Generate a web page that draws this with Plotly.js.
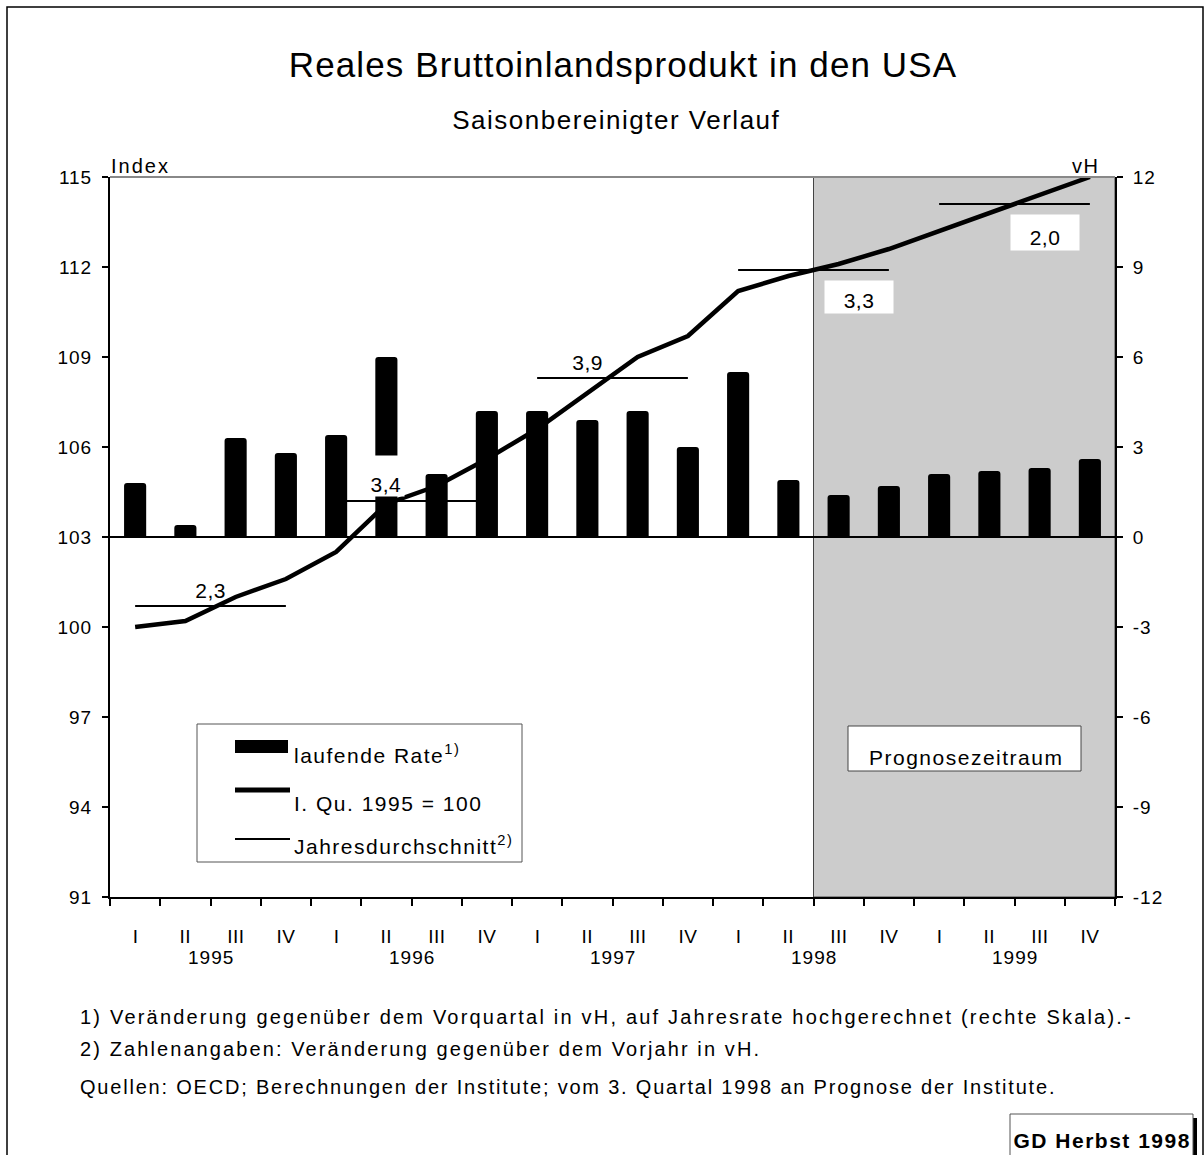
<!DOCTYPE html>
<html>
<head>
<meta charset="utf-8">
<script src="https://cdn.plot.ly/plotly-3.0.1.min.js"></script>
<style>html,body{margin:0;padding:0;background:#fff;}#chart{width:1204px;height:1155px;}</style>
</head>
<body>
<div id="chart"></div>
<script>
// ---- data ----
const quarterNames = ['I', 'II', 'III', 'IV'];
const years = ['1995', '1996', '1997', '1998', '1999'];
// laufende Rate (vH, right scale)
const rate = [1.8, 0.4, 3.3, 2.8, 3.4, 6.0, 2.1, 4.2, 4.2, 3.9, 4.2, 3.0, 5.5, 1.9, 1.4, 1.7, 2.1, 2.2, 2.3, 2.6];
// Index I. Qu. 1995 = 100 (left scale)
const indexLevel = [100.0, 100.2, 101.0, 101.6, 102.5, 104.1, 104.7, 105.6, 106.6, 107.8, 109.0, 109.7, 111.2, 111.7, 112.1, 112.6, 113.2, 113.8, 114.4, 115.0];
// Jahresdurchschnitt (index level) and growth vs. previous year
const annualAvg = [100.7, 104.2, 108.3, 111.9, 114.1];
const annualGrowth = ['2,3', '3,4', '3,9', '3,3', '2,0'];
// axis ticks
const leftTicks = [91, 94, 97, 100, 103, 106, 109, 112, 115];
const rightTicks = [-12, -9, -6, -3, 0, 3, 6, 9, 12];
const rightTickText = ['-12', '-9', '-6', '-3', '0', '3', '6', '9', '12'];
const titleText = 'Reales Bruttoinlandsprodukt in den USA';
const subtitleText = 'Saisonbereinigter Verlauf';
const legendTexts = ['laufende Rate', 'I. Qu. 1995 = 100', 'Jahresdurchschnitt'];
const legendSup = ['1)', '', '2)'];
const footnotes = [
  '1) Veränderung gegenüber dem Vorquartal in vH, auf Jahresrate hochgerechnet (rechte Skala).-',
  '2) Zahlenangaben: Veränderung gegenüber dem Vorjahr in vH.',
  'Quellen: OECD; Berechnungen der Institute; vom 3. Quartal 1998 an Prognose der Institute.'
];

// ---- helpers ----
const FONT = 'Liberation Sans, Arial, sans-serif';
const L = 110, R = 89, T = 177, B = 258, W = 1204, H = 1155;
const PW = W - L - R, PH = H - T - B;
const px2x = p => (p - L) / PW;
const py2y = p => (H - B - p) / PH;

const nQ = years.length * quarterNames.length;
const xs = Array.from({length: nQ}, (_, i) => i);
const qLabels = xs.map(i => quarterNames[i % 4]);

const segX = [], segY = [];
annualAvg.forEach((v, k) => { segX.push(4 * k, 4 * k + 3, null); segY.push(v, v, null); });

const traces = [
  {type: 'bar', x: xs, y: rate, yaxis: 'y2', marker: {color: '#000'}, showlegend: false, hoverinfo: 'none'},
  {type: 'scatter', mode: 'lines', x: xs, y: indexLevel, yaxis: 'y', line: {color: '#000', width: 4.5}, showlegend: false, hoverinfo: 'none'},
  {type: 'scatter', mode: 'lines', x: segX, y: segY, yaxis: 'y', line: {color: '#000', width: 2}, showlegend: false, hoverinfo: 'none', connectgaps: false}
];

const shapes = [
  {type: 'rect', xref: 'x', yref: 'paper', x0: 13.5, x1: nQ - 0.5, y0: 0, y1: 1, fillcolor: '#cccccc', line: {color: '#444', width: 1}, layer: 'below'},
  {type: 'line', xref: 'paper', yref: 'y2', x0: 0, x1: 1, y0: 0, y1: 0, line: {color: '#000', width: 2}, layer: 'below'},
  {type: 'line', xref: 'paper', yref: 'paper', x0: 0, x1: 1, y0: 1, y1: 1, line: {color: '#888', width: 2}},
  {type: 'rect', xref: 'paper', yref: 'paper', x0: px2x(7), x1: px2x(1203), y0: py2y(1160), y1: py2y(7), line: {color: '#000', width: 1.5}, fillcolor: 'rgba(0,0,0,0)'},
  {type: 'rect', xref: 'paper', yref: 'paper', x0: px2x(197), x1: px2x(522), y0: py2y(862), y1: py2y(724), fillcolor: '#fff', line: {color: '#555', width: 1}},
  {type: 'rect', xref: 'paper', yref: 'paper', x0: px2x(235), x1: px2x(288), y0: py2y(753), y1: py2y(740), fillcolor: '#000', line: {width: 0}},
  {type: 'line', xref: 'paper', yref: 'paper', x0: px2x(235), x1: px2x(290), y0: py2y(790), y1: py2y(790), line: {color: '#000', width: 5}},
  {type: 'line', xref: 'paper', yref: 'paper', x0: px2x(235), x1: px2x(290), y0: py2y(839), y1: py2y(839), line: {color: '#000', width: 2}},
  {type: 'rect', xref: 'paper', yref: 'paper', x0: px2x(848), x1: px2x(1081), y0: py2y(771), y1: py2y(726), fillcolor: '#fff', line: {color: '#444', width: 1}},
  {type: 'rect', xref: 'paper', yref: 'paper', x0: px2x(1014), x1: px2x(1197), y0: py2y(1160), y1: py2y(1118), fillcolor: '#000', line: {width: 0}},
  {type: 'rect', xref: 'paper', yref: 'paper', x0: px2x(1010), x1: px2x(1193), y0: py2y(1160), y1: py2y(1114), fillcolor: '#fff', line: {color: '#555', width: 1}}
];

const annotations = [];
const txt = (text, x, y, opts = {}) => Object.assign({
  text, x, y, xref: 'paper', yref: 'paper', showarrow: false,
  xanchor: 'center', yanchor: 'middle', font: {family: FONT, size: 21, color: '#000'}
}, opts);

annotations.push(txt(subtitleText, px2x(616), py2y(120), {font: {family: FONT, size: 26, color: '#000'}}));
annotations.push(txt('Index', px2x(109), py2y(166), {xanchor: 'left', font: {family: FONT, size: 20, color: '#000'}}));
annotations.push(txt('vH', px2x(1101), py2y(166), {xanchor: 'right', font: {family: FONT, size: 20, color: '#000'}}));

xs.forEach(i => annotations.push(txt(qLabels[i], i, py2y(936), {xref: 'x', font: {family: FONT, size: 19, color: '#000'}})));
years.forEach((y, k) => annotations.push(txt(y, 4 * k + 1.5, py2y(957), {xref: 'x', font: {family: FONT, size: 19, color: '#000'}})));

const gOff = [1.5, 1.0, 1.0, 2.4, 2.1];
const gAbove = [true, true, true, false, false];
annualGrowth.forEach((g, k) => {
  const base = {xref: 'x', yref: 'y', x: 4 * k + gOff[k], y: annualAvg[k], font: {family: FONT, size: 21, color: '#000'}};
  if (k === 1) {
    annotations.push(Object.assign(txt(g, 0, 0), base, {yanchor: 'bottom', yshift: 4, bgcolor: '#fff', width: 36, height: 40, valign: 'bottom', borderpad: 0}));
  } else if (gAbove[k]) {
    annotations.push(Object.assign(txt(g, 0, 0), base, {yanchor: 'bottom', yshift: 2}));
  } else {
    annotations.push(Object.assign(txt(g, 0, 0), base, {yanchor: 'top', yshift: -10, bgcolor: '#fff', width: 66, height: k === 4 ? 33 : 30, valign: 'bottom', borderpad: 1}));
  }
});

const legY = [754, 803, 845];
legendTexts.forEach((t, i) => annotations.push(txt(t + (legendSup[i] ? '<sup>' + legendSup[i] + '</sup>' : ''), px2x(292), py2y(legY[i]), {xanchor: 'left'})));
annotations.push(txt('Prognosezeitraum', px2x(966), py2y(757)));

const fnY = [1017, 1049, 1087];
footnotes.forEach((f, i) => annotations.push(txt(f, px2x(78), py2y(fnY[i]), {xanchor: 'left', font: {family: FONT, size: 20, color: '#000'}})));
annotations.push(txt('<b>GD Herbst 1998</b>', px2x(1102), py2y(1140), {font: {family: FONT, size: 21, color: '#000'}}));

const layout = {
  width: W, height: H,
  margin: {l: L, r: R, t: T, b: B, pad: 0},
  paper_bgcolor: '#fff', plot_bgcolor: '#fff',
  font: {family: FONT, color: '#000'},
  showlegend: false,
  bargap: 0.56,
  barcornerradius: 3,
  title: {text: titleText, xref: 'container', x: 623 / W, xanchor: 'center',
          yref: 'container', y: 1 - 65 / H, yanchor: 'middle', font: {family: FONT, size: 35, color: '#000'}},
  xaxis: {range: [-0.5, nQ - 0.5], tickvals: xs.map(i => i - 0.5).concat([nQ - 0.5]), showticklabels: false,
          ticks: 'outside', ticklen: 7, tickwidth: 2, tickcolor: '#000', showline: true, linecolor: '#000', linewidth: 2,
          showgrid: false, zeroline: false, fixedrange: true},
  yaxis: {range: [91, 115], tickvals: leftTicks, ticks: 'outside', ticklen: 6, tickwidth: 2, tickcolor: '#000',
          showline: true, linecolor: '#000', linewidth: 2, showgrid: false, zeroline: false,
          tickfont: {family: FONT, size: 19, color: '#000'}, ticklabelstandoff: 6},
  yaxis2: {range: [-12, 12], tickvals: rightTicks, ticktext: rightTickText, overlaying: 'y', side: 'right',
           ticks: 'outside', ticklen: 6, tickwidth: 2, tickcolor: '#000', showline: true, linecolor: '#000', linewidth: 2,
           showgrid: false, zeroline: false, tickfont: {family: FONT, size: 19, color: '#000'}, ticklabelstandoff: 6},
  shapes, annotations
};

// letter spacing to mimic the wider original typesetting
const tickStrings = leftTicks.map(String).concat(rightTickText);
const footSpacing = [2.2, 2.1, 1.8];
const leftAnchored = new Set(footnotes.concat(legendTexts.map((t, i) => t + legendSup[i])).concat(['Index']));
const rightAnchored = new Set(['vH']);
function spacingFor(s) {
  if (s === titleText) return 1.1;
  const fi = footnotes.indexOf(s);
  if (fi >= 0) return footSpacing[fi];
  if (s === 'Index') return 2;
  if (tickStrings.includes(s)) return 1;
  if (years.includes(s)) return 1;
  if (quarterNames.includes(s)) return 0.5;
  if (annualGrowth.includes(s)) return 0.5;
  return 1.5;
}

Plotly.newPlot('chart', traces, layout, {displayModeBar: false, staticPlot: true}).then(gd => {
  gd.querySelectorAll('svg text').forEach(t => {
    const s = t.textContent.replace(/[\u200b\u200c\u200d\ufeff]/g, '').trim();
    let b0 = null;
    try { b0 = t.getBBox(); } catch (e) {}
    t.style.letterSpacing = spacingFor(s) + 'px';
    if (!b0) return;
    const b1 = t.getBBox();
    let dx = 0;
    if (leftAnchored.has(s)) dx = b0.x - b1.x;
    else if (rightAnchored.has(s)) dx = (b0.x + b0.width) - (b1.x + b1.width);
    if (dx) t.setAttribute('transform', 'translate(' + dx + ',0) ' + (t.getAttribute('transform') || ''));
  });
});
</script>
</body>
</html>
